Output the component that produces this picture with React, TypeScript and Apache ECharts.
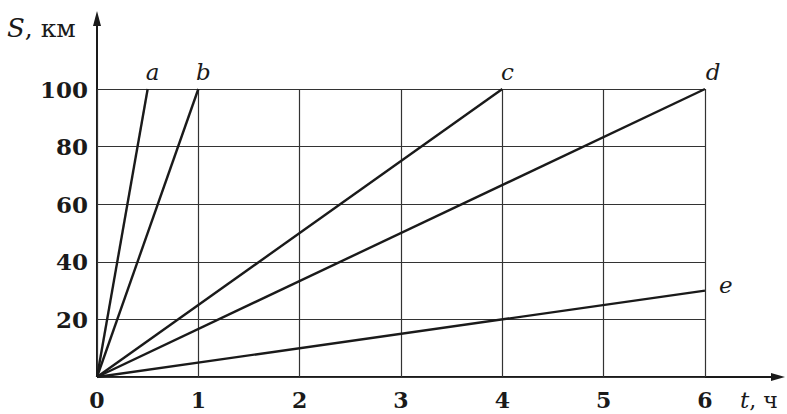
import React, { useEffect, useRef } from "react";
import * as echarts from "echarts";

const xTicks = [0, 1, 2, 3, 4, 5, 6];
const yTicks = [0, 20, 40, 60, 80, 100];
const lineNames = ["a", "b", "c", "d", "e"];
// end points (t, S) of each line; all start at origin
const endT = [0.5, 1, 4, 6, 6];
const endS = [100, 100, 100, 100, 30];

const SERIF = "'DejaVu Serif', 'Liberation Serif', serif";

export default function App() {
  const ref = useRef<HTMLDivElement>(null);
  useEffect(() => {
    document.body.style.margin = "0";
    if (!ref.current) return;
    const chart = echarts.init(ref.current, null, { renderer: "svg" });
    const left = 97, right = 82, top = 89, bottom = 37;
    const W = 787, H = 414;
    const x0 = left, y0 = H - bottom;
    const series = lineNames.map((name, i) => ({
      type: "line",
      name,
      symbol: "circle",
      symbolSize: 0,
      showSymbol: true,
      lineStyle: { color: "#1a1a1a", width: 2.4 },
      itemStyle: { color: "#1a1a1a" },
      data: [
        { value: [0, 0], label: { show: false } },
        {
          value: [endT[i], endS[i]],
          label: {
            show: true,
            formatter: name,
            position: i === 4 ? "right" : "top",
            distance: i === 4 ? 14 : 6,
            offset: i === 4 ? [0, -6] : i === 3 ? [8, 0] : [5, 0],
            fontFamily: SERIF,
            fontStyle: "italic",
            fontSize: 23,
            color: "#1a1a1a",
          },
        },
      ],
      silent: true,
    }));
    chart.setOption({
      animation: false,
      backgroundColor: "#ffffff",
      grid: { left, right, top, bottom },
      xAxis: {
        type: "value",
        min: 0,
        max: xTicks[xTicks.length - 1],
        interval: 1,
        axisLine: { show: false },
        axisTick: { show: false },
        axisLabel: {
          margin: 13,
          lineHeight: 20,
          fontFamily: SERIF,
          fontWeight: "bold",
          fontSize: 22,
          color: "#1a1a1a",
          showMaxLabel: true,
          showMinLabel: true,
        },
        splitLine: { show: true, lineStyle: { color: "#333", width: 1.2 } },
      },
      yAxis: {
        type: "value",
        min: 0,
        max: yTicks[yTicks.length - 1],
        interval: 20,
        axisLine: { show: false },
        axisTick: { show: false },
        axisLabel: {
          margin: 9,
          fontFamily: SERIF,
          fontWeight: "bold",
          fontSize: 23,
          color: "#1a1a1a",
          formatter: (v: number) => (v === 0 ? "" : String(v)),
        },
        splitLine: { show: true, lineStyle: { color: "#333", width: 1.2 } },
      },
      series,
      graphic: [
        { type: "line", shape: { x1: x0, y1: y0, x2: W - 10, y2: y0 }, style: { stroke: "#1a1a1a", lineWidth: 2 } },
        { type: "polygon", shape: { points: [[W - 2, y0], [W - 16, y0 - 4], [W - 16, y0 + 4]] }, style: { fill: "#1a1a1a" } },
        { type: "line", shape: { x1: x0, y1: y0, x2: x0, y2: 18 }, style: { stroke: "#1a1a1a", lineWidth: 2 } },
        { type: "polygon", shape: { points: [[x0, 11], [x0 - 4, 26], [x0 + 4, 26]] }, style: { fill: "#1a1a1a" } },
        {
          type: "text",
          x: 7,
          y: 28,
          style: {
            text: "{i|S}{n|, км}",
            verticalAlign: "middle",
            rich: {
              i: { fontFamily: SERIF, fontStyle: "italic", fontSize: 26, fill: "#1a1a1a" },
              n: { fontFamily: SERIF, fontSize: 25, fill: "#1a1a1a" },
            },
          },
        },
        {
          type: "text",
          x: 740,
          y: 400,
          style: {
            text: "{i|t}{n|, ч}",
            verticalAlign: "middle",
            rich: {
              i: { fontFamily: SERIF, fontStyle: "italic", fontSize: 23, fill: "#1a1a1a", lineHeight: 20 },
              n: { fontFamily: SERIF, fontSize: 22, fill: "#1a1a1a", lineHeight: 20 },
            },
          },
        },
      ],
    });
    return () => chart.dispose();
  }, []);
  return <div ref={ref} style={{ width: 787, height: 414 }} />;
}
